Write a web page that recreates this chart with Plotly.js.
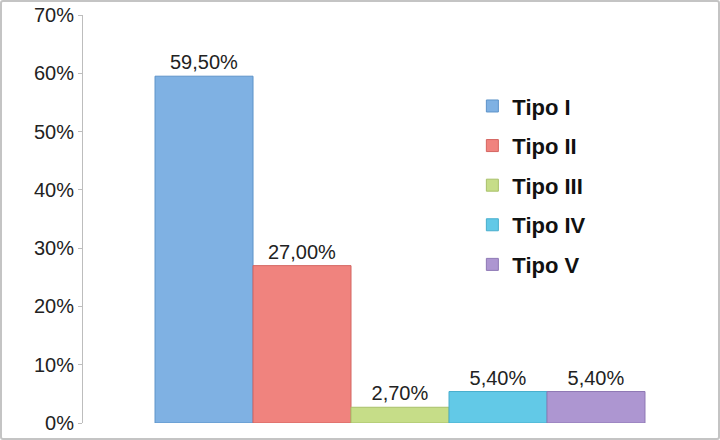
<!DOCTYPE html>
<html>
<head>
<meta charset="utf-8">
<script src="https://cdn.plot.ly/plotly-3.0.1.min.js"></script>
<style>
  html, body { margin: 0; padding: 0; background: #fff; }
  #wrap { position: relative; width: 720px; height: 440px; }
  #chart { width: 720px; height: 440px; }
  #frame { position: absolute; left: 0; top: 0; width: 720px; height: 440px; box-sizing: border-box;
           border: 2px solid #c4c4c4; border-radius: 3px; pointer-events: none; }
</style>
</head>
<body>
<div id="wrap"><div id="chart"></div><div id="frame"></div></div>
<script>
const categories = ["Tipo I", "Tipo II", "Tipo III", "Tipo IV", "Tipo V"];
const values = [59.5, 27.0, 2.7, 5.4, 5.4];
const colors = ["#7fb1e3", "#f0837e", "#c6dd88", "#62c9e7", "#ad96d1"];
const lineColors = ["#5d93c9", "#d46560", "#a8c06a", "#48aecd", "#8e78b4"];
const yTicks = [0, 10, 20, 30, 40, 50, 60, 70];
const yTickLabels = ["0%", "10%", "20%", "30%", "40%", "50%", "60%", "70%"];

const traces = categories.map((c, i) => ({
  type: "bar",
  name: c,
  x: [c],
  y: [values[i]],
  width: 1,
  legendgroup: c,
  marker: { color: colors[i], line: { color: lineColors[i], width: 1 } },
  texttemplate: "%{y:.2f}%",
  textposition: "outside",
  cliponaxis: false,
  textfont: { family: "Liberation Sans, Arial, sans-serif", size: 20, color: "#222" },
  hoverinfo: "skip"
}));

const layout = {
  width: 720, height: 440,
  margin: { l: 83, r: 17, t: 15, b: 17 },
  paper_bgcolor: "#fff", plot_bgcolor: "#fff",
  separators: ",.",
  barmode: "overlay",
  bargap: 0,
  showlegend: true,
  legend: {
    x: 0.628, y: 0.828, xanchor: "left", yanchor: "top",
    traceorder: "grouped",
    tracegroupgap: 8,
    font: { family: "Liberation Sans, Arial, sans-serif", size: 22, color: "#111", weight: "bold" },
    bgcolor: "rgba(0,0,0,0)"
  },
  xaxis: {
    type: "category",
    categoryorder: "array", categoryarray: categories,
    range: [-1.235, 5.092],
    showticklabels: false, showline: false, showgrid: false, zeroline: false, ticks: ""
  },
  yaxis: {
    range: [0, 70],
    tickmode: "array",
    tickvals: yTicks,
    ticktext: yTickLabels,
    showline: true, linecolor: "#bdbdbd", linewidth: 1,
    ticks: "outside", ticklen: 4, tickcolor: "#bdbdbd",
    showgrid: false, zeroline: false,
    tickfont: { family: "Liberation Sans, Arial, sans-serif", size: 20, color: "#222" }
  }
};

Plotly.newPlot("chart", traces, layout, { displayModeBar: false, staticPlot: true });
</script>
</body>
</html>
